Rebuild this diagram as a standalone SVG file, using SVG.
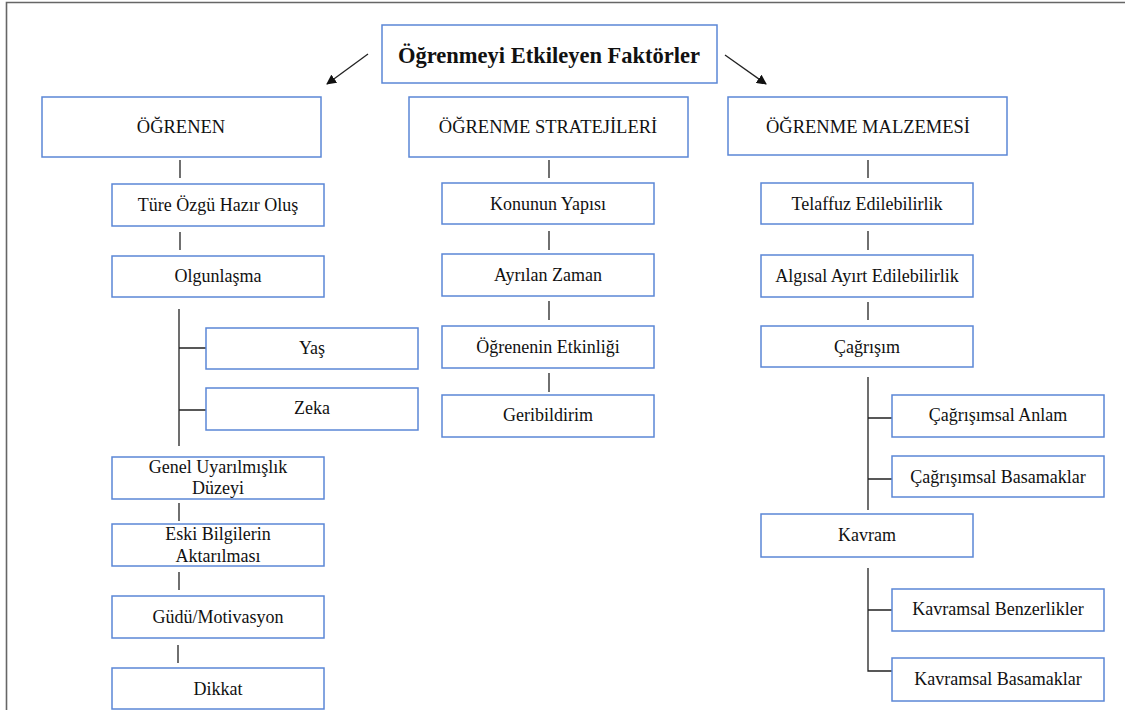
<svg xmlns="http://www.w3.org/2000/svg" width="1125" height="710" viewBox="0 0 1125 710">
<style>
.box{fill:#fff;stroke:#5b87d6;stroke-width:1.5}
.t{font-family:"Liberation Serif","Times New Roman",serif;font-size:18px;fill:#111;text-anchor:middle}
.h{font-size:18.5px}
.title{font-weight:bold;font-size:22.5px}
.ln{stroke:#222;stroke-width:1.3;fill:none}
</style>
<defs>
<marker id="ah" viewBox="0 0 10 10" refX="9" refY="5" markerWidth="10" markerHeight="10" markerUnits="userSpaceOnUse" orient="auto">
<path d="M0,0 L10,5 L0,10 z" fill="#111"/>
</marker>
</defs>
<rect width="1125" height="710" fill="#fff"/>
<path d="M6.5,710 V2.5 H1125" fill="none" stroke="#666" stroke-width="1.6"/>
<g id="connectors">
<line class="ln" x1="368" y1="54" x2="327" y2="84" marker-end="url(#ah)"/>
<line class="ln" x1="725" y1="55" x2="766" y2="84" marker-end="url(#ah)"/>
<line class="ln" x1="180" y1="160" x2="180" y2="178"/>
<line class="ln" x1="180" y1="232" x2="180" y2="250"/>
<path class="ln" d="M179,309 V446 M179,348 H206 M179,410 H206"/>
<line class="ln" x1="179" y1="503" x2="179" y2="521"/>
<line class="ln" x1="179" y1="572" x2="179" y2="590"/>
<line class="ln" x1="178" y1="645" x2="178" y2="663"/>
<line class="ln" x1="549" y1="160" x2="549" y2="178"/>
<line class="ln" x1="549" y1="231" x2="549" y2="250"/>
<line class="ln" x1="549" y1="301" x2="549" y2="320"/>
<line class="ln" x1="549" y1="373" x2="549" y2="392"/>
<line class="ln" x1="868" y1="160" x2="868" y2="178"/>
<line class="ln" x1="868" y1="231" x2="868" y2="250"/>
<line class="ln" x1="868" y1="302" x2="868" y2="320"/>
<path class="ln" d="M868,377 V510 M868,418 H892 M868,479 H892"/>
<path class="ln" d="M868,568 V671 H892 M868,610 H892"/>
</g>
<g id="n-title"><rect class="box" x="382" y="25" width="335" height="58"/><text class="t title" x="549" y="63">Öğrenmeyi Etkileyen Faktörler</text></g>
<g id="n-ogrenen"><rect class="box" x="42" y="97" width="279" height="60"/><text class="t h" x="181" y="133">ÖĞRENEN</text></g>
<g id="n-strateji"><rect class="box" x="409" y="97" width="279" height="60"/><text class="t h" x="548" y="133">ÖĞRENME STRATEJİLERİ</text></g>
<g id="n-malzeme"><rect class="box" x="728" y="97" width="279" height="58"/><text class="t h" x="868" y="133">ÖĞRENME MALZEMESİ</text></g>
<g id="n-ture"><rect class="box" x="112" y="184" width="212" height="42"/><text class="t" x="218" y="211">Türe Özgü Hazır Oluş</text></g>
<g id="n-olgun"><rect class="box" x="112" y="256" width="212" height="41"/><text class="t" x="218" y="282">Olgunlaşma</text></g>
<g id="n-yas"><rect class="box" x="206" y="328" width="212" height="41"/><text class="t" x="312" y="354">Yaş</text></g>
<g id="n-zeka"><rect class="box" x="206" y="388" width="212" height="42"/><text class="t" x="312" y="414">Zeka</text></g>
<g id="n-genel"><rect class="box" x="112" y="457" width="212" height="42"/><text class="t" x="218" y="473">Genel Uyarılmışlık</text><text class="t" x="218" y="494">Düzeyi</text></g>
<g id="n-eski"><rect class="box" x="112" y="524" width="212" height="42"/><text class="t" x="218" y="540">Eski Bilgilerin</text><text class="t" x="218" y="562">Aktarılması</text></g>
<g id="n-gudu"><rect class="box" x="112" y="596" width="212" height="42"/><text class="t" x="218" y="623">Güdü/Motivasyon</text></g>
<g id="n-dikkat"><rect class="box" x="112" y="668" width="212" height="41"/><text class="t" x="218" y="695">Dikkat</text></g>
<g id="n-konu"><rect class="box" x="442" y="183" width="212" height="41"/><text class="t" x="548" y="210">Konunun Yapısı</text></g>
<g id="n-zaman"><rect class="box" x="442" y="254" width="212" height="42"/><text class="t" x="548" y="281">Ayrılan Zaman</text></g>
<g id="n-etkin"><rect class="box" x="442" y="326" width="212" height="42"/><text class="t" x="548" y="353">Öğrenenin Etkinliği</text></g>
<g id="n-geri"><rect class="box" x="442" y="395" width="212" height="42"/><text class="t" x="548" y="421">Geribildirim</text></g>
<g id="n-telaffuz"><rect class="box" x="761" y="183" width="212" height="41"/><text class="t" x="867" y="210">Telaffuz Edilebilirlik</text></g>
<g id="n-algisal"><rect class="box" x="761" y="255" width="212" height="42"/><text class="t" x="867" y="282">Algısal Ayırt Edilebilirlik</text></g>
<g id="n-cagrisim"><rect class="box" x="761" y="326" width="212" height="41"/><text class="t" x="867" y="353">Çağrışım</text></g>
<g id="n-anlam"><rect class="box" x="892" y="395" width="212" height="42"/><text class="t" x="998" y="421">Çağrışımsal Anlam</text></g>
<g id="n-cbasamak"><rect class="box" x="892" y="456" width="212" height="41"/><text class="t" x="998" y="483">Çağrışımsal Basamaklar</text></g>
<g id="n-kavram"><rect class="box" x="761" y="514" width="212" height="43"/><text class="t" x="867" y="541">Kavram</text></g>
<g id="n-benzer"><rect class="box" x="892" y="589" width="212" height="42"/><text class="t" x="998" y="615">Kavramsal Benzerlikler</text></g>
<g id="n-kbasamak"><rect class="box" x="892" y="658" width="212" height="43"/><text class="t" x="998" y="685">Kavramsal Basamaklar</text></g>
</svg>
